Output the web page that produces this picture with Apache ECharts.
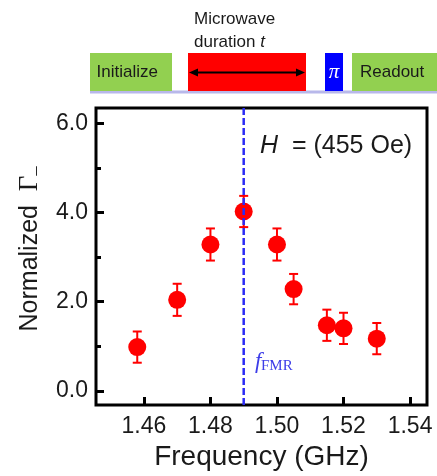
<!DOCTYPE html>
<html>
<head>
<meta charset="utf-8">
<script src="https://cdn.jsdelivr.net/npm/echarts@6/dist/echarts.min.js"></script>
<style>
html,body{margin:0;padding:0;background:#fff;}
#chart{width:437px;height:476px;}
</style>
</head>
<body>
<div id="chart"></div>
<script>
// ---- data ----
var frequency = [1.458, 1.470, 1.480, 1.490, 1.500, 1.505, 1.515, 1.520, 1.530];
var gammaNorm = [0.98, 2.04, 3.28, 4.02, 3.28, 2.28, 1.47, 1.40, 1.17];
var gammaErr  = [0.35, 0.36, 0.36, 0.35, 0.36, 0.34, 0.35, 0.35, 0.35];
var fFMR = 1.49;
var xTicks = [1.46, 1.48, 1.50, 1.52, 1.54];
var yTicks = [0, 2, 4, 6];
var yMinorTicks = [1, 3, 5];
var xRange = [1.4456, 1.5451];
var yRange = [-0.32, 6.34];

var SANS = "'Liberation Sans', Arial, sans-serif";
var SERIF = "'Liberation Serif', 'Times New Roman', serif";

var points = frequency.map(function (f, i) { return [f, gammaNorm[i]]; });
var errData = frequency.map(function (f, i) { return [f, gammaNorm[i], gammaErr[i]]; });

var chart = echarts.init(document.getElementById('chart'), null, {renderer: 'canvas'});

var green = '#92d050';

var option = {
  animation: false,
  backgroundColor: '#fff',
  grid: {
    left: 96, right: 10, top: 108, bottom: 70,
    show: true, borderColor: '#000', borderWidth: 3, backgroundColor: 'transparent'
  },
  xAxis: {
    type: 'value',
    min: xRange[0], max: xRange[1],
    position: 'bottom',
    name: 'Frequency (GHz)',
    nameLocation: 'middle',
    nameGap: 34,
    nameTextStyle: {fontFamily: SANS, fontSize: 28, color: '#1a1a1a'},
    axisLine: {show: false, onZero: false},
    splitLine: {show: false},
    axisTick: {show: true, inside: true, length: 8, customValues: xTicks,
               lineStyle: {color: '#000', width: 3}},
    axisLabel: {customValues: xTicks, margin: 10, fontFamily: SANS, fontSize: 23, color: '#1a1a1a',
                formatter: function (v) { return v.toFixed(2); }}
  },
  yAxis: [{
    type: 'value',
    min: yRange[0], max: yRange[1],
    axisLine: {show: false, onZero: false},
    splitLine: {show: false},
    axisTick: {show: true, inside: true, length: 8, customValues: yTicks,
               lineStyle: {color: '#000', width: 3}},
    axisLabel: {customValues: yTicks, margin: 8, fontFamily: SANS, fontSize: 23, color: '#1a1a1a',
                formatter: function (v) { return v.toFixed(1); }}
  }, {
    type: 'value',
    min: yRange[0], max: yRange[1],
    position: 'left',
    axisLine: {show: false, onZero: false},
    splitLine: {show: false},
    axisLabel: {show: false},
    axisTick: {show: true, inside: true, length: 5, customValues: yMinorTicks,
               lineStyle: {color: '#000', width: 3}}
  }],
  series: [{
    type: 'custom',
    name: 'err',
    data: errData,
    z: 2,
    renderItem: function (params, api) {
      var x = api.value(0), y = api.value(1), e = api.value(2);
      var top = api.coord([x, y + e]);
      var bot = api.coord([x, y - e]);
      var hw = 4.5;
      var st = {stroke: '#ff0000', lineWidth: 2};
      return {type: 'group', children: [
        {type: 'line', shape: {x1: top[0], y1: top[1], x2: bot[0], y2: bot[1]}, style: st},
        {type: 'line', shape: {x1: top[0] - hw, y1: top[1], x2: top[0] + hw, y2: top[1]}, style: st},
        {type: 'line', shape: {x1: bot[0] - hw, y1: bot[1], x2: bot[0] + hw, y2: bot[1]}, style: st}
      ]};
    }
  }, {
    type: 'scatter',
    data: points,
    symbol: 'circle',
    symbolSize: 18,
    z: 3,
    itemStyle: {color: '#ff0000', opacity: 1}
  }, {
    type: 'custom',
    name: 'fFMR',
    data: [[fFMR]],
    z: 6,
    silent: true,
    renderItem: function (params, api) {
      var f = api.value(0);
      var p1 = api.coord([f, yRange[0]]);
      var p2 = api.coord([f, yRange[1]]);
      return {type: 'line', shape: {x1: p1[0], y1: p1[1], x2: p2[0], y2: p2[1]},
              style: {stroke: '#2b2bf5', lineWidth: 2.5, lineDash: [7, 3]}};
    }
  }],
  graphic: [
    // pulse sequence diagram
    {type: 'line', shape: {x1: 90, y1: 92, x2: 437, y2: 92}, style: {stroke: '#b8b8ea', lineWidth: 3}},
    {type: 'rect', shape: {x: 90, y: 53, width: 82, height: 38}, style: {fill: green}},
    {type: 'rect', shape: {x: 188, y: 53, width: 118, height: 38}, style: {fill: '#ff0000'}},
    {type: 'rect', shape: {x: 325, y: 53, width: 18, height: 38}, style: {fill: '#0000ff'}},
    {type: 'rect', shape: {x: 352, y: 53, width: 85, height: 38}, style: {fill: green}},
    {type: 'line', shape: {x1: 195, y1: 72.5, x2: 298, y2: 72.5}, style: {stroke: '#000', lineWidth: 2}},
    {type: 'polygon', shape: {points: [[189, 72.5], [198, 68.5], [198, 76.5]]}, style: {fill: '#000'}},
    {type: 'polygon', shape: {points: [[305, 72.5], [296, 68.5], [296, 76.5]]}, style: {fill: '#000'}},
    {type: 'text', x: 96.5, y: 72.5, style: {text: 'Initialize', font: '17px ' + SANS, fill: '#1a1a1a',
      verticalAlign: 'middle', align: 'left'}},
    {type: 'text', x: 360, y: 72.5, style: {text: 'Readout', font: '17px ' + SANS, fill: '#1a1a1a',
      verticalAlign: 'middle', align: 'left'}},
    {type: 'text', x: 334, y: 72, style: {text: 'π', font: 'italic 21px ' + SERIF, fill: '#fff',
      verticalAlign: 'middle', align: 'center'}},
    {type: 'text', x: 194, y: 19.5, style: {text: 'Microwave', font: '17px ' + SANS, fill: '#1a1a1a',
      verticalAlign: 'middle', align: 'left'}},
    {type: 'text', x: 194, y: 42.5, style: {
      text: '{n|duration }{i|t}', verticalAlign: 'middle', align: 'left',
      rich: {n: {fontFamily: SANS, fontSize: 17, fill: '#1a1a1a', color: '#1a1a1a'},
             i: {fontFamily: SANS, fontSize: 17, fontStyle: 'italic', fill: '#1a1a1a', color: '#1a1a1a'}}}},
    // annotations in the plot
    {type: 'text', x: 260, y: 146, z: 10, style: {
      text: '{i|H}{n|  = (455 Oe)}', verticalAlign: 'middle', align: 'left',
      rich: {i: {fontFamily: SANS, fontSize: 25, fontStyle: 'italic', fill: '#1a1a1a', color: '#1a1a1a'},
             n: {fontFamily: SANS, fontSize: 25, fill: '#1a1a1a', color: '#1a1a1a'}}}},
    {type: 'text', x: 255, y: 362, z: 10, style: {text: 'f', font: 'italic 23px ' + SERIF, fill: '#3d3de8',
      verticalAlign: 'middle', align: 'left'}},
    {type: 'text', x: 261, y: 366, z: 10, style: {text: 'FMR', font: '15px ' + SERIF, fill: '#3d3de8',
      verticalAlign: 'middle', align: 'left'}},
    // y axis title
    {type: 'text', x: 30, y: 249, rotation: Math.PI / 2, style: {
      text: '{a|Normalized  }{g|Γ}{s|_}', align: 'center', verticalAlign: 'middle',
      rich: {a: {fontFamily: SANS, fontSize: 25, fill: '#1a1a1a', color: '#1a1a1a'},
             g: {fontFamily: SERIF, fontSize: 27, fill: '#1a1a1a', color: '#1a1a1a'},
             s: {fontFamily: SERIF, fontSize: 18, fill: '#1a1a1a', color: '#1a1a1a', verticalAlign: 'middle'}}}}
  ]
};
chart.setOption(option);
</script>
</body>
</html>
